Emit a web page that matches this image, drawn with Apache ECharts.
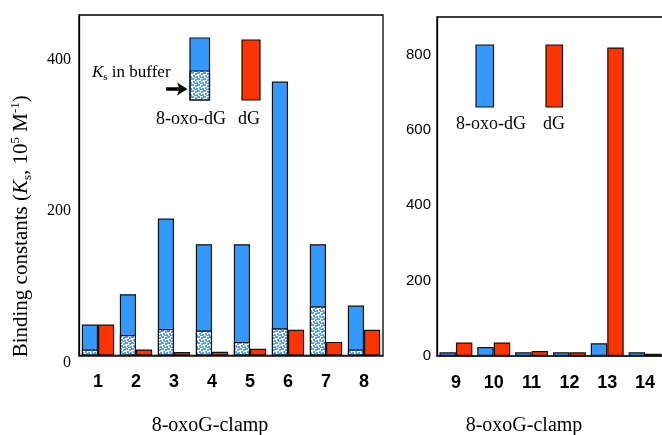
<!DOCTYPE html>
<html><head><meta charset="utf-8">
<script src="https://cdn.jsdelivr.net/npm/echarts@6/dist/echarts.min.js"></script>
<style>html,body{margin:0;padding:0;background:#fff}#c{width:662px;height:435px}</style>
</head><body><div id="c"></div>
<script>
// ---- data ----
const leftCategories = ['1','2','3','4','5','6','7','8'];
const left8oxodG = [41, 81, 181, 147, 147, 362, 147, 66];   // total bar height (8-oxo-dG)
const leftBuffer = [8, 27, 35, 33, 18, 36, 65, 8];           // Ks in buffer (dotted part)
const leftdG = [41, 8, 4.5, 5, 9, 34, 18, 34];
const rightCategories = ['9','10','11','12','13','14'];
const right8oxodG = [10, 24, 10, 10, 34, 10];
const rightdG = [36, 36, 13, 10, 819, 6];
const leftTicks = [0, 200, 400];
const rightTicks = [0, 200, 400, 600, 800];

const BLUE = '#3399ff', RED = '#ff3300';
const SERIF = '"Liberation Serif", "Times New Roman", serif';
const SANS = '"Liberation Sans", Arial, sans-serif';

function makePattern(){
  const c = document.createElement('canvas'); c.width = 6; c.height = 6;
  const g = c.getContext('2d');
  g.fillStyle = '#ffffff'; g.fillRect(0,0,6,6);
  g.fillStyle = '#4aa3ff';
  [[0,0],[3,1],[1,3],[4,4],[5,0],[2,5]].forEach(p => g.fillRect(p[0], p[1], 2, 2));
  return c;
}
const pat = {image: makePattern(), repeat: 'repeat'};
const border = {borderColor: '#111', borderWidth: 1.2};

const chart = echarts.init(document.getElementById('c'));
const fmt = ticks => v => ticks.indexOf(v) >= 0 ? String(v) : '';

chart.setOption({
  animation: false,
  backgroundColor: '#fff',
  grid: [
    {left: 79, top: 15, width: 304, height: 340.5, show: true, borderColor: '#000', borderWidth: 1.3,
     containLabel: false, outerBoundsMode: 'none'},
    {left: 437, top: 17, width: 227, height: 339, show: true, borderColor: '#000', borderWidth: 1.3,
     containLabel: false, outerBoundsMode: 'none'}
  ],
  xAxis: [
    {type: 'category', gridIndex: 0, data: leftCategories,
     axisTick: {show: false}, axisLine: {lineStyle: {color: '#222', width: 1.5}},
     axisLabel: {fontFamily: SANS, fontWeight: 'bold', fontSize: 18, color: '#000', margin: 18},
     name: '8-oxoG-clamp', nameLocation: 'middle', nameGap: 60,
     nameTextStyle: {fontFamily: SERIF, fontSize: 20, color: '#000', padding: [0, 42, 0, 0]}},
    {type: 'category', gridIndex: 0, data: leftCategories, show: false},
    {type: 'category', gridIndex: 1, data: rightCategories,
     axisTick: {show: false}, axisLine: {lineStyle: {color: '#222', width: 1.5}},
     axisLabel: {fontFamily: SANS, fontWeight: 'bold', fontSize: 18, color: '#000', margin: 18},
     name: '8-oxoG-clamp', nameLocation: 'middle', nameGap: 60,
     nameTextStyle: {fontFamily: SERIF, fontSize: 20, color: '#000', padding: [0, 53, 0, 0]}}
  ],
  yAxis: [
    {type: 'value', gridIndex: 0, min: 0, max: 450, interval: 200,
     splitLine: {show: false}, axisTick: {show: false},
     axisLine: {show: true, lineStyle: {color: '#000', width: 1.3}},
     axisLabel: {fontFamily: SERIF, fontSize: 16, color: '#000', margin: 8, verticalAlign: 'top', lineHeight: 14, formatter: fmt(leftTicks)},
     name: '{a|Binding constants (}{k|K}{s|s}{a|, 10}{p|5}{a| M}{p|-1}{a|)}',
     nameLocation: 'middle', nameGap: 45,
     nameTextStyle: {fontFamily: SERIF, fontSize: 21, color: '#000', padding: [0, 82, 0, 0],
       rich: {
         a: {fontFamily: SERIF, fontSize: 21, lineHeight: 25, color: '#000'},
         k: {fontFamily: SERIF, fontSize: 21, lineHeight: 25, fontStyle: 'italic', color: '#000'},
         s: {fontFamily: SERIF, fontSize: 13, lineHeight: 14, verticalAlign: 'bottom', color: '#000'},
         p: {fontFamily: SERIF, fontSize: 13, lineHeight: 14, verticalAlign: 'top', color: '#000'}
       }}},
    {type: 'value', gridIndex: 1, min: 0, max: 900, interval: 200,
     splitLine: {show: false}, axisTick: {show: false},
     axisLine: {show: true, lineStyle: {color: '#000', width: 1.3}},
     axisLabel: {fontFamily: SANS, fontSize: 15, color: '#000', margin: 6, formatter: fmt(rightTicks)}}
  ],
  series: [
    {type: 'bar', name: '8-oxo-dG', xAxisIndex: 0, yAxisIndex: 0, data: left8oxodG,
     barGap: '0%', barCategoryGap: '15%', itemStyle: Object.assign({color: BLUE}, border)},
    {type: 'bar', name: 'dG', xAxisIndex: 0, yAxisIndex: 0, data: leftdG,
     barGap: '0%', barCategoryGap: '15%', itemStyle: Object.assign({color: RED}, border)},
    {type: 'bar', name: 'Ks in buffer', xAxisIndex: 1, yAxisIndex: 0, data: leftBuffer,
     barGap: '0%', barCategoryGap: '15%', itemStyle: Object.assign({color: pat}, border)},
    {type: 'bar', name: 'slot', xAxisIndex: 1, yAxisIndex: 0, data: leftCategories.map(() => null),
     barGap: '0%', barCategoryGap: '15%'},
    {type: 'bar', name: '8-oxo-dG', xAxisIndex: 2, yAxisIndex: 1, data: right8oxodG,
     barGap: '0%', barCategoryGap: '13%', itemStyle: Object.assign({color: BLUE}, border)},
    {type: 'bar', name: 'dG', xAxisIndex: 2, yAxisIndex: 1, data: rightdG,
     barGap: '0%', barCategoryGap: '13%', itemStyle: Object.assign({color: RED}, border)}
  ],
  graphic: [
    // left legend
    {type: 'rect', shape: {x: 190, y: 38, width: 19.5, height: 33}, style: {fill: BLUE}},
    {type: 'rect', shape: {x: 190, y: 71, width: 19.5, height: 29}, style: {fill: pat, stroke: '#111', lineWidth: 1.2}},
    {type: 'rect', shape: {x: 190, y: 38, width: 19.5, height: 62}, style: {fill: 'none', stroke: '#111', lineWidth: 1.2}},
    {type: 'rect', shape: {x: 242, y: 40, width: 18, height: 60}, style: {fill: RED, stroke: '#111', lineWidth: 1.2}},
    {type: 'text', style: {x: 191, y: 119, text: '8-oxo-dG', font: '18px ' + SERIF, fill: '#000', align: 'center', verticalAlign: 'middle'}},
    {type: 'text', style: {x: 249, y: 119, text: 'dG', font: '18px ' + SERIF, fill: '#000', align: 'center', verticalAlign: 'middle'}},
    {type: 'text', style: {x: 92, y: 73, text: '{k|K}{s|s}{n| in buffer}', align: 'left', verticalAlign: 'middle',
      rich: {
        k: {fontFamily: SERIF, fontSize: 17, fontStyle: 'italic', lineHeight: 20, fill: '#000'},
        s: {fontFamily: SERIF, fontSize: 11, lineHeight: 12, verticalAlign: 'bottom', fill: '#000'},
        n: {fontFamily: SERIF, fontSize: 17, lineHeight: 20, fill: '#000'}
      }}},
    {type: 'line', shape: {x1: 166, y1: 89, x2: 180, y2: 89}, style: {stroke: '#000', lineWidth: 3.5}},
    {type: 'polygon', shape: {points: [[177, 82.5], [187.5, 89], [177, 95.5], [179.5, 89]]}, style: {fill: '#000'}},
    // right legend
    {type: 'rect', shape: {x: 476, y: 45, width: 17.5, height: 62}, style: {fill: BLUE, stroke: '#111', lineWidth: 1.2}},
    {type: 'rect', shape: {x: 546, y: 45, width: 16.5, height: 62}, style: {fill: RED, stroke: '#111', lineWidth: 1.2}},
    {type: 'text', style: {x: 491, y: 124, text: '8-oxo-dG', font: '18px ' + SERIF, fill: '#000', align: 'center', verticalAlign: 'middle'}},
    {type: 'text', style: {x: 554, y: 124, text: 'dG', font: '18px ' + SERIF, fill: '#000', align: 'center', verticalAlign: 'middle'}}
  ]
});
</script>
</body></html>
